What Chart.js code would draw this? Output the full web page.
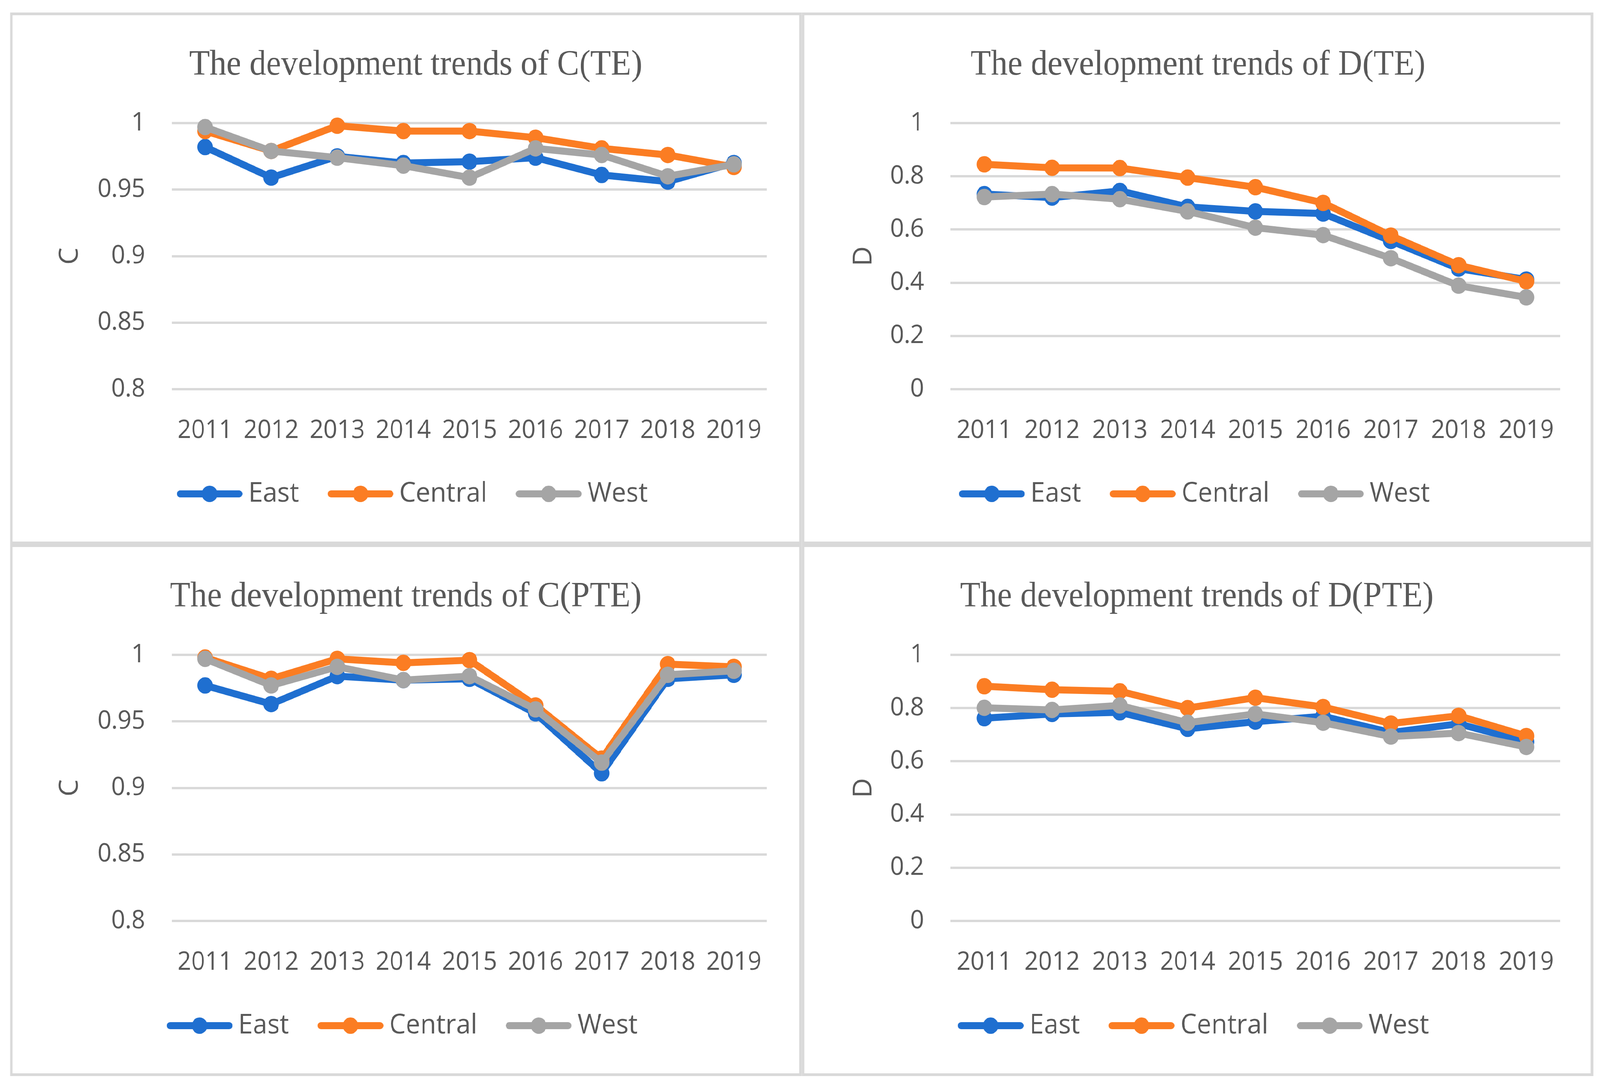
<!DOCTYPE html>
<html>
<head>
<meta charset="utf-8">
<script src="https://cdn.jsdelivr.net/npm/chart.js@4.4.1/dist/chart.umd.min.js"></script>
<style>
  html, body { margin: 0; padding: 0; background: #fff; overflow: hidden; }
  #stage { position: absolute; left: 0; top: 0; width: 4306px; height: 2782px; transform-origin: 0 0; }
  .panel { position: absolute; box-sizing: border-box; border: 7px solid #d9d9d9; background: #fff; }
  .panel canvas { display: block; }
</style>
</head>
<body>
<div id="stage">
<div class="panel" style="left:27px; top:32px; width:2131px; height:1361px;"><canvas id="c1"></canvas></div>
<div class="panel" style="left:2158px; top:32px; width:2130px; height:1361px;"><canvas id="c2"></canvas></div>
<div class="panel" style="left:27px; top:1393px; width:2131px; height:1361px;"><canvas id="c3"></canvas></div>
<div class="panel" style="left:2158px; top:1393px; width:2130px; height:1361px;"><canvas id="c4"></canvas></div>
</div>
<script>
// --- data ---
const years = ['2011', '2012', '2013', '2014', '2015', '2016', '2017', '2018', '2019'];
const seriesNames = ['East', 'Central', 'West'];

const cTicks = [0.8, 0.85, 0.9, 0.95, 1];
const dTicks = [0, 0.2, 0.4, 0.6, 0.8, 1];

// C(TE)
const cteEast    = [0.982, 0.959, 0.975, 0.970, 0.971, 0.974, 0.961, 0.956, 0.970];
const cteCentral = [0.994, 0.979, 0.998, 0.994, 0.994, 0.989, 0.981, 0.976, 0.967];
const cteWest    = [0.997, 0.979, 0.974, 0.968, 0.959, 0.981, 0.976, 0.960, 0.969];

// D(TE)
const dteEast    = [0.733, 0.720, 0.745, 0.685, 0.668, 0.660, 0.557, 0.453, 0.412];
const dteCentral = [0.845, 0.832, 0.831, 0.795, 0.759, 0.700, 0.577, 0.466, 0.405];
const dteWest    = [0.722, 0.733, 0.714, 0.668, 0.607, 0.579, 0.492, 0.389, 0.345];

// C(PTE)
const cpteEast    = [0.977, 0.963, 0.984, 0.981, 0.982, 0.956, 0.911, 0.982, 0.985];
const cpteCentral = [0.998, 0.982, 0.997, 0.994, 0.996, 0.962, 0.922, 0.993, 0.991];
const cpteWest    = [0.997, 0.977, 0.991, 0.981, 0.984, 0.959, 0.919, 0.985, 0.988];

// D(PTE)
const dpteEast    = [0.762, 0.778, 0.784, 0.722, 0.749, 0.769, 0.708, 0.741, 0.673];
const dpteCentral = [0.882, 0.869, 0.863, 0.800, 0.839, 0.804, 0.742, 0.771, 0.695];
const dpteWest    = [0.801, 0.793, 0.810, 0.745, 0.778, 0.745, 0.693, 0.706, 0.654];

// --- styling ---
const seriesColors = ['#1f6fd0', '#fb7d23', '#a5a5a5'];
const textColor = '#595959';
const sansFont = "'Open Sans', 'Noto Sans', sans-serif";
const serifFont = "'Liberation Serif', 'DejaVu Serif', serif";

// the layout is drawn for 4306x2782; stretch it onto the real viewport
const KX = window.innerWidth / 4306;
const KY = window.innerHeight / 2782;
document.getElementById('stage').style.transform = 'scale(' + KX + ',' + KY + ')';

// legend swatch: thick line with a dot in the middle (Excel style)
function legendMark(color) {
    const c = document.createElement('canvas');
    c.width = 177; c.height = 50;
    const g = c.getContext('2d');
    g.strokeStyle = color; g.lineWidth = 18; g.lineCap = 'round';
    g.beginPath(); g.moveTo(9, 25); g.lineTo(168, 25); g.stroke();
    g.fillStyle = color;
    g.beginPath(); g.arc(88.5, 25, 21, 0, Math.PI * 2); g.fill();
    return c;
}
const marks = seriesColors.map(legendMark);

function makeChart(id, p) {
    const datasets = p.series.map((vals, i) => ({
        label: seriesNames[i],
        data: vals,
        borderColor: seriesColors[i],
        backgroundColor: seriesColors[i],
        pointBackgroundColor: seriesColors[i],
        pointBorderColor: seriesColors[i],
        borderWidth: 18,
        borderJoinStyle: 'round',
        pointRadius: 20,
        pointBorderWidth: 2,
        tension: 0,
        clip: false,
        order: 3 - i   // West drawn on top, East at the bottom
    }));

    return new Chart(document.getElementById(id), {
        type: 'line',
        data: { labels: years, datasets: datasets },
        options: {
            animation: false,
            responsive: true,
            maintainAspectRatio: false,
            events: [],
            layout: { padding: { left: p.padLeft, right: p.padRight, top: 0, bottom: 77 } },
            plugins: {
                title: {
                    display: true,
                    text: p.title,
                    color: textColor,
                    font: { family: serifFont, size: 90, weight: 'normal' },
                    padding: { top: 74, bottom: 94 }
                },
                legend: {
                    position: 'bottom',
                    labels: {
                        usePointStyle: true,
                        pointStyleWidth: 139,
                        padding: 96,
                        color: textColor,
                        font: { family: sansFont, size: 70 },
                        generateLabels: chart => chart.data.datasets.map((ds, i) => ({
                            text: ds.label,
                            pointStyle: marks[i],
                            fillStyle: ds.borderColor,
                            strokeStyle: ds.borderColor,
                            lineWidth: 0,
                            hidden: false,
                            datasetIndex: i,
                            fontColor: textColor
                        }))
                    }
                },
                tooltip: { enabled: false }
            },
            scales: {
                x: {
                    offset: true,
                    grid: { display: false },
                    border: { display: false },
                    ticks: {
                        color: textColor,
                        font: { family: sansFont, size: 65 },
                        padding: 59,
                        maxRotation: 0,
                        minRotation: 0,
                        autoSkip: false
                    },
                    afterFit: s => { s.height = 137; }
                },
                y: {
                    min: p.ticks[0],
                    max: p.ticks[p.ticks.length - 1],
                    grid: { color: '#d9d9d9', lineWidth: 6, drawTicks: false },
                    border: { display: false },
                    afterBuildTicks: s => { s.ticks = p.ticks.map(v => ({ value: v })); },
                    ticks: {
                        padding: p.tickPad,
                        color: textColor,
                        font: { family: sansFont, size: 65 },
                        callback: v => String(v)
                    },
                    title: {
                        display: true,
                        text: p.yLabel,
                        color: textColor,
                        font: { family: sansFont, size: 70, lineHeight: 0.2 },
                        padding: { top: p.yTitlePad, bottom: 0 }
                    },
                    afterFit: s => { s.width = p.axisWidth; }
                }
            }
        }
    });
}

makeChart('c1', {
    title: 'The development trends of C(TE)', yLabel: 'C', ticks: cTicks,
    series: [cteEast, cteCentral, cteWest],
    padLeft: 140, padRight: 87, axisWidth: 289, tickPad: 72, yTitlePad: 8
});
makeChart('c2', {
    title: 'The development trends of D(TE)', yLabel: 'D', ticks: dTicks,
    series: [dteEast, dteCentral, dteWest],
    padLeft: 84, padRight: 82, axisWidth: 309, tickPad: 71, yTitlePad: 69
});
makeChart('c3', {
    title: 'The development trends of C(PTE)', yLabel: 'C', ticks: cTicks,
    series: [cpteEast, cpteCentral, cpteWest],
    padLeft: 86, padRight: 87, axisWidth: 343, tickPad: 72, yTitlePad: 62
});
makeChart('c4', {
    title: 'The development trends of D(PTE)', yLabel: 'D', ticks: dTicks,
    series: [dpteEast, dpteCentral, dpteWest],
    padLeft: 78, padRight: 82, axisWidth: 315, tickPad: 71, yTitlePad: 75
});
</script>
</body>
</html>
